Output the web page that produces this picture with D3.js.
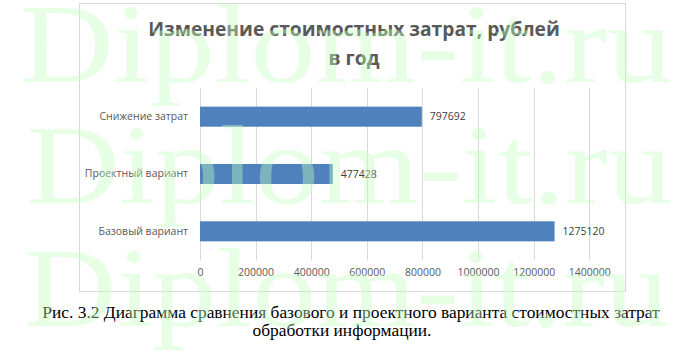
<!DOCTYPE html>
<html>
<head>
<meta charset="utf-8">
<script src="https://cdn.jsdelivr.net/npm/d3@7"></script>
<style>
  html, body { margin: 0; padding: 0; background: #fff; }
  svg { display: block; }
</style>
</head>
<body>
<div id="chart"></div>
<script>
const categories = ['Базовый вариант', 'Проектный вариант', 'Снижение затрат']
const values = [1275120, 477428, 797692]
const xTicks = [0, 200000, 400000, 600000, 800000, 1000000, 1200000, 1400000]
const titleLines = ['Изменение стоимостных затрат, рублей', 'в год']
const captionLines = [
  'Рис. 3.2 Диаграмма сравнения базового и проектного варианта стоимостных затрат',
  'обработки информации.'
]
const watermark = 'Diplom-it.ru'

const width = 685
const height = 354
const frame = { left: 79, top: 3, right: 625, bottom: 291 }
const plot = { left: 200, right: 589.3, top: 88, bottom: 260 }
const grey = '#595959'
const uiFont = '"Open Sans", "Noto Sans", sans-serif'
const serif = '"Liberation Serif", "DejaVu Serif", serif'

const svg = d3.select('#chart').append('svg')
  .attr('width', width)
  .attr('height', height)

// fit a text element to a given width by changing its font size
function fitWidth (sel, target) {
  const node = sel.node()
  const size = parseFloat(sel.attr('font-size'))
  const len = node.getComputedTextLength()
  sel.attr('font-size', size * target / len)
}

svg.append('rect')
  .attr('x', frame.left + 0.5)
  .attr('y', frame.top + 0.5)
  .attr('width', frame.right - frame.left)
  .attr('height', frame.bottom - frame.top)
  .attr('fill', '#fff')
  .attr('stroke', '#d9d9d9')

const x = d3.scaleLinear().domain([0, 1400000]).range([plot.left, plot.right])
const y = d3.scaleBand()
  .domain(categories.slice().reverse())
  .range([plot.top, plot.bottom])
  .paddingInner(0.65)
  .paddingOuter(0.325)

// gridlines
svg.append('g')
  .selectAll('line')
  .data(xTicks).enter()
  .append('line')
  .attr('x1', d => Math.round(x(d)) + 0.5)
  .attr('x2', d => Math.round(x(d)) + 0.5)
  .attr('y1', plot.top)
  .attr('y2', plot.bottom)
  .attr('stroke', '#d9d9d9')

// x axis labels
const xAxis = svg.append('g')
  .attr('transform', `translate(0, ${plot.bottom})`)
  .call(d3.axisBottom(x).tickValues(xTicks).tickSize(0).tickPadding(9).tickFormat(d3.format('d')))
xAxis.select('.domain').remove()
xAxis.selectAll('text')
  .attr('fill', grey)
  .attr('font-family', uiFont)
  .attr('font-size', 10.5)

// category labels
const yAxis = svg.append('g')
  .attr('transform', `translate(${plot.left}, 0)`)
  .call(d3.axisLeft(y).tickSize(0).tickPadding(12))
yAxis.select('.domain').remove()
yAxis.selectAll('text')
  .attr('fill', grey)
  .attr('font-family', uiFont)
  .attr('font-size', 10.5)

const rows = categories.map((c, i) => ({ cat: c, val: values[i] }))

svg.append('g')
  .selectAll('rect')
  .data(rows).enter()
  .append('rect')
  .attr('x', x(0))
  .attr('y', d => y(d.cat))
  .attr('width', d => x(d.val) - x(0))
  .attr('height', y.bandwidth())
  .attr('fill', '#4f81bd')

svg.append('g')
  .selectAll('text')
  .data(rows).enter()
  .append('text')
  .attr('x', d => x(d.val) + 8)
  .attr('y', d => y(d.cat) + y.bandwidth() / 2)
  .attr('dy', '0.35em')
  .attr('fill', '#404040')
  .attr('font-family', uiFont)
  .attr('font-size', 10.5)
  .text(d => d.val)

// title
const title = svg.append('g')
  .attr('font-family', uiFont)
  .attr('font-weight', 'bold')
  .attr('fill', grey)
  .attr('text-anchor', 'middle')
const t1 = title.append('text')
  .attr('x', 354).attr('y', 36).attr('font-size', 18).text(titleLines[0])
fitWidth(t1, 412)
title.append('text')
  .attr('x', 354).attr('y', 65).attr('font-size', t1.attr('font-size')).text(titleLines[1])

// caption
const cap = svg.append('g')
  .attr('font-family', serif)
  .attr('fill', '#000')
  .attr('text-anchor', 'middle')
const c1 = cap.append('text')
  .attr('x', 351).attr('y', 318).attr('font-size', 16).text(captionLines[0])
fitWidth(c1, 618)
cap.append('text')
  .attr('x', 342).attr('y', 336).attr('font-size', c1.attr('font-size')).text(captionLines[1])

// watermark
const wm = svg.append('g')
  .attr('font-family', serif)
  .attr('font-size', 113)
  .attr('fill', '#c2ffbf')
  .attr('fill-opacity', 0.4)
;[[20, 82, 652], [27, 203, 645], [24, 326, 645]].forEach(([wx, wy, wl]) => {
  wm.append('text')
    .attr('x', wx)
    .attr('y', wy)
    .attr('textLength', wl)
    .attr('lengthAdjust', 'spacingAndGlyphs')
    .text(watermark)
})
</script>
</body>
</html>
